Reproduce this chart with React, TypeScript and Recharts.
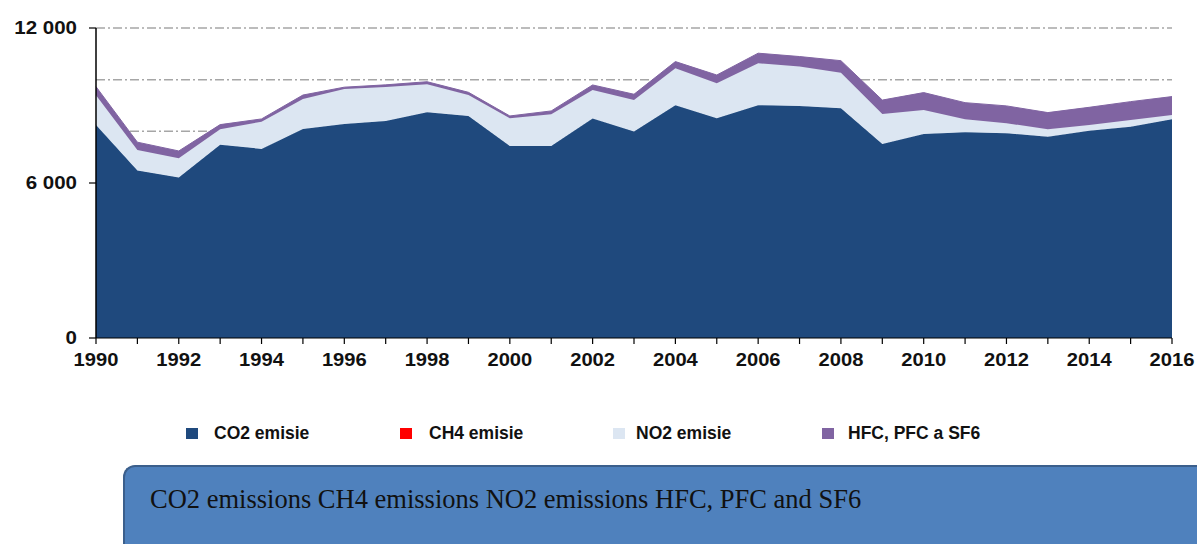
import React from 'react';
import { AreaChart, Area, XAxis, YAxis, CartesianGrid } from 'recharts';

const years = [1990,1991,1992,1993,1994,1995,1996,1997,1998,1999,2000,2001,2002,2003,2004,2005,2006,2007,2008,2009,2010,2011,2012,2013,2014,2015,2016];
const co2 = [8250,6480,6210,7480,7320,8090,8285,8400,8740,8590,7430,7430,8500,7990,9010,8505,9010,8980,8890,7510,7900,7960,7925,7795,8025,8180,8465];
const ch4 = years.map(() => 0);
const no2 = [1150,800,750,600,1055,1160,1355,1320,1080,815,1075,1230,1100,1225,1430,1355,1625,1525,1380,1160,930,505,390,285,220,260,170];
const hfc = [330,300,280,180,105,155,70,80,100,105,90,130,195,220,260,320,390,390,465,540,670,645,670,645,685,710,710];

const seriesNames = ['CO2 emisie', 'CH4 emisie', 'NO2 emisie', 'HFC, PFC a SF6'];
const seriesKeys = ['co2', 'ch4', 'no2', 'hfc'];
const seriesColors = ['#1F497D', '#FF0000', '#DCE6F2', '#8064A2'];
const yTicks = [0, 6000, 12000];
const gridValues = [2000, 4000, 6000, 8000, 10000, 12000];
const boxText = 'CO2 emissions CH4 emissions NO2 emissions HFC, PFC and SF6';

const data = years.map((y, i) => ({ year: y, co2: co2[i], ch4: ch4[i], no2: no2[i], hfc: hfc[i] }));

const SANS = '"Liberation Sans", Arial, sans-serif';

const fmt = (v: number) => {
  const s = String(v);
  if (s.length > 3) return s.slice(0, s.length - 3) + ' ' + s.slice(s.length - 3);
  return s;
};

const XTick = (props: any) => {
  const { x, y, payload } = props;
  if (payload.value % 2 !== 0) return <g />;
  return (
    <g transform={`translate(${x},${y}) scale(1.12,1)`}>
      <text x={0} y={0} dy={20} textAnchor="middle" fontFamily={SANS} fontWeight="bold" fontSize={18} fill="#111">{payload.value}</text>
    </g>
  );
};

const YTick = (props: any) => {
  const { y, payload } = props;
  return (
    <g transform={`translate(77,${y}) scale(1.14,1)`}>
      <text x={0} y={0} dy="0.36em" textAnchor="end" fontFamily={SANS} fontWeight="bold" fontSize={18} fill="#111">{fmt(payload.value)}</text>
    </g>
  );
};

const legendSquareX = [186, 400, 613, 822];
const legendTextX = [214, 429, 636, 848];

export default function App() {
  return (
    <div style={{ position: 'absolute', left: 0, top: 0, width: 1197, height: 544, overflow: 'hidden', background: '#fff' }}>
      <AreaChart width={1197} height={400} data={data} margin={{ top: 28, right: 25, bottom: 0, left: 0 }}>
        <CartesianGrid vertical={false} horizontalValues={gridValues} stroke="#A6A6A6" strokeWidth={1.5} strokeDasharray="9 3 2 3" />
        <XAxis dataKey="year" type="number" domain={[1990, 2016]} ticks={years} interval={0} height={62}
          tickSize={6} tick={<XTick />} axisLine={{ stroke: '#000', strokeWidth: 1.2 }} tickLine={{ stroke: '#000', strokeWidth: 1.2 }} />
        <YAxis type="number" domain={[0, 12000]} ticks={yTicks} interval={0} width={96} tickSize={7}
          tick={<YTick />} axisLine={{ stroke: '#000', strokeWidth: 1.5 }} tickLine={{ stroke: '#000', strokeWidth: 1.2 }} />
        {seriesKeys.map((k, i) => (
          <Area key={k} type="linear" dataKey={k} stackId="1" fill={seriesColors[i]} fillOpacity={1}
            stroke={k === 'ch4' ? 'none' : seriesColors[i]} strokeWidth={k === 'ch4' ? 0 : 1} isAnimationActive={false} dot={false} activeDot={false} />
        ))}
      </AreaChart>
      {seriesNames.map((n, i) => (
        <React.Fragment key={n}>
          <div style={{ position: 'absolute', top: 428, left: legendSquareX[i], width: 12, height: 11, background: seriesColors[i] }} />
          <div style={{ position: 'absolute', top: 423, left: legendTextX[i], fontFamily: SANS, fontWeight: 'bold', fontSize: 17.5, color: '#111', whiteSpace: 'nowrap', lineHeight: '20px' }}>{n}</div>
        </React.Fragment>
      ))}
      <div style={{ position: 'absolute', left: 123, top: 465, width: 1150, height: 120, background: '#4F81BD', borderTop: '2.5px solid #3B5F8C', borderLeft: '2.5px solid #3B5F8C', borderTopLeftRadius: 12, boxSizing: 'border-box' }}>
        <div style={{ position: 'absolute', left: 25, top: 17, fontFamily: '"Liberation Serif", "Times New Roman", serif', fontSize: 26.5, lineHeight: '30px', color: '#111', whiteSpace: 'nowrap' }}>{boxText}</div>
      </div>
    </div>
  );
}
